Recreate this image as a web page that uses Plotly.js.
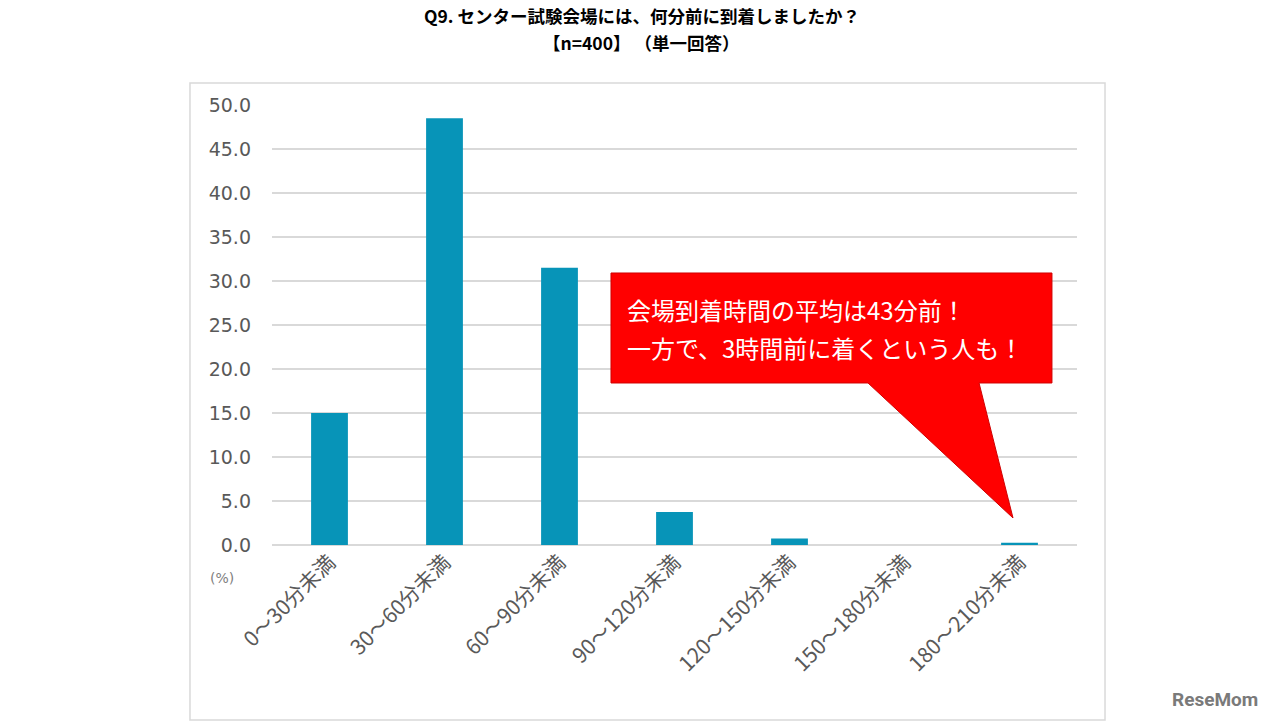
<!DOCTYPE html>
<html>
<head>
<meta charset="utf-8">
<script src="https://cdn.plot.ly/plotly-3.0.1.min.js"></script>
<style>html,body{margin:0;padding:0;background:#fff;}#chart{width:1280px;height:723px;}</style>
</head>
<body>
<div id="chart"></div>
<script>
const categories = ["0〜30分未満","30〜60分未満","60〜90分未満","90〜120分未満","120〜150分未満","150〜180分未満","180〜210分未満"];
const values = [15.0, 48.5, 31.5, 3.75, 0.75, 0, 0.25];
const yTickVals = [0,5,10,15,20,25,30,35,40,45,50];
const titleLine1 = "Q9. センター試験会場には、何分前に到着しましたか？";
const titleLine2 = "【n=400】 （単一回答）";
const calloutLine1 = "会場到着時間の平均は43分前！";
const calloutLine2 = "一方で、3時間前に着くという人も！";

const FONT = "DejaVu Sans, Noto Sans CJK JP, sans-serif";
const CJK = "Noto Sans CJK JP, sans-serif";

const trace = {
  type: "bar",
  x: categories,
  y: values,
  marker: {color: "#0794b8"},
  hoverinfo: "x+y"
};

const layout = {
  width: 1280, height: 723,
  margin: {l: 272, r: 203, t: 105, b: 178},
  paper_bgcolor: "#ffffff",
  plot_bgcolor: "#ffffff",
  showlegend: false,
  bargap: 0.68,
  font: {family: FONT, color: "#595959"},
  xaxis: {
    type: "category",
    tickangle: -45,
    tickfont: {family: CJK, size: 21, color: "#595959"},
    showgrid: false,
    showline: false,
    ticks: "",
    zeroline: false
  },
  yaxis: {
    range: [0, 50],
    tickvals: yTickVals,
    tickformat: ".1f",
    tickfont: {family: FONT, size: 19, color: "#595959"},
    showgrid: true,
    gridcolor: "#d9d9d9",
    gridwidth: 2,
    zeroline: true,
    zerolinecolor: "#d9d9d9",
    zerolinewidth: 2,
    showline: false,
    ticks: "",
    ticklabelstandoff: 20
  },
  shapes: [
    {type: "rect", xref: "paper", yref: "paper",
     x0: -0.1019, x1: 1.0348, y0: -0.3977, y1: 1.05,
     line: {color: "#d9d9d9", width: 1.5}, fillcolor: "rgba(0,0,0,0)", layer: "below"},
    {type: "path", xref: "paper", yref: "paper",
     path: "M 0.4211,0.6182 L 0.9689,0.6182 L 0.9689,0.3682 L 0.8783,0.3682 L 0.9205,0.0614 L 0.7404,0.3682 L 0.4211,0.3682 Z",
     fillcolor: "#ff0000", line: {color: "#d00000", width: 1}, layer: "above"}
  ],
  annotations: [
    {xref: "paper", yref: "paper", x: 0.4596, y: 1.2045, xanchor: "center", yanchor: "middle",
     text: "<b>" + titleLine1 + "</b>", showarrow: false, font: {family: CJK, size: 17.5, color: "#000000"}},
    {xref: "paper", yref: "paper", x: 0.4596, y: 1.143, xanchor: "center", yanchor: "middle",
     text: "<b>" + titleLine2 + "</b>", showarrow: false, font: {family: CJK, size: 17.5, color: "#000000"}},
    {xref: "paper", yref: "paper", x: 0.4385, y: 0.536, xanchor: "left", yanchor: "middle",
     text: calloutLine1, showarrow: false, font: {family: CJK, size: 24, color: "#ffffff"}},
    {xref: "paper", yref: "paper", x: 0.4385, y: 0.448, xanchor: "left", yanchor: "middle",
     text: calloutLine2, showarrow: false, font: {family: CJK, size: 24, color: "#ffffff"}},
    {xref: "paper", yref: "paper", x: -0.0621, y: -0.075, xanchor: "center", yanchor: "middle",
     text: "(%)", showarrow: false, font: {family: FONT, size: 14, color: "#7f7f7f"}},
    {xref: "paper", yref: "paper", x: 1.172, y: -0.352, xanchor: "center", yanchor: "middle",
     text: "<b>ReseMom</b>", showarrow: false, font: {family: "Roboto, sans-serif", size: 19, color: "#7a7a7a"}}
  ]
};

Plotly.newPlot("chart", [trace], layout, {displayModeBar: false, staticPlot: true});
</script>
</body>
</html>
